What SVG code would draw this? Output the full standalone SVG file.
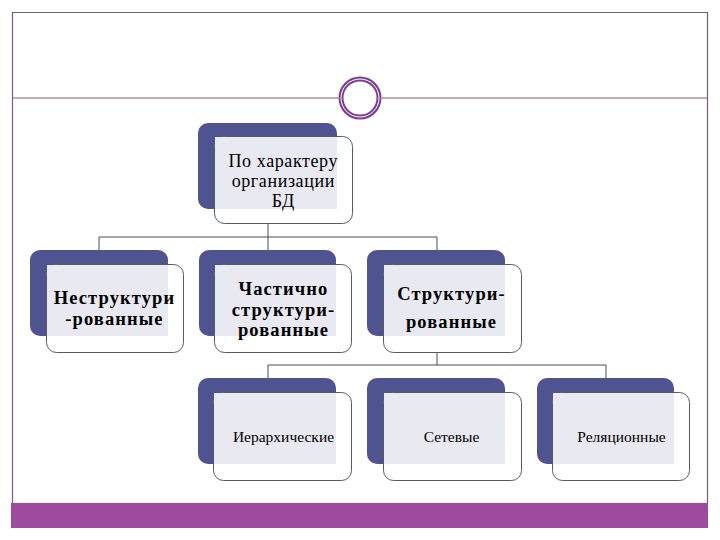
<svg xmlns="http://www.w3.org/2000/svg" width="720" height="540" viewBox="0 0 720 540">
<style>
.back{fill:#4F5490}
.front{fill:#ffffff;stroke:#555a66;stroke-width:1}
.lav{fill:#E9E9F1}
.conn{fill:none;stroke:#4a4a55;stroke-width:1}
text{font-family:'Liberation Serif','DejaVu Serif',serif;fill:#000;text-anchor:middle}
.b{font-weight:bold;font-size:18.5px;letter-spacing:1.1px}
.n{font-size:15.5px}
.top{font-size:18px;letter-spacing:0.6px}
.frame{fill:none;stroke:#7a5a7e;stroke-width:1.2}
</style>
<rect x="0" y="0" width="720" height="540" fill="#ffffff"/>
<g id="frame">
<path class="frame" d="M12.5,503 V12.5 H707.5 V503"/>
<line class="frame" x1="12.5" y1="98" x2="338" y2="98"/>
<line class="frame" x1="382" y1="98" x2="707.5" y2="98"/>
<circle cx="360" cy="98" r="19" fill="#ffffff" stroke="#7E3F8C" stroke-width="5"/>
<circle cx="360" cy="98" r="19" fill="none" stroke="#ffffff" stroke-width="1"/>
<rect x="11" y="503" width="697" height="25" fill="#9E4A9E"/>
</g>
<g id="connectors">
<path class="conn" d="M268,223 V237 M99,250 V237 H437 V250 M268,237 V250"/>
<path class="conn" d="M437,352 V365 M268,378 V365 H606 V378"/>
</g>
<g id="node-top">
<rect class="back" x="198" y="123" width="139" height="86" rx="10"/>
<rect class="front" x="214.5" y="136.5" width="138" height="87" rx="10"/>
<rect class="lav" x="215" y="137" width="122" height="72"/>
<text class="top" x="283.3" y="167">По характеру<tspan x="283.3" dy="20">организации</tspan><tspan x="283.3" dy="20">БД</tspan></text>
</g>
<g id="node-unstructured">
<rect class="back" x="30" y="250" width="138" height="86" rx="10"/>
<rect class="front" x="46.5" y="264.5" width="137" height="88" rx="10"/>
<rect class="lav" x="47" y="265" width="121" height="71"/>
<text class="b" x="114.5" y="304">Неструктури<tspan x="114.5" dy="20.5">-рованные</tspan></text>
</g>
<g id="node-partial">
<rect class="back" x="199" y="250" width="137" height="86" rx="10"/>
<rect class="front" x="214.5" y="264.5" width="137" height="88" rx="10"/>
<rect class="lav" x="215" y="265" width="121" height="71"/>
<text class="b" x="283.5" y="295">Частично<tspan x="283.5" dy="20.5">структури-</tspan><tspan x="283.5" dy="20.5">рованные</tspan></text>
</g>
<g id="node-structured">
<rect class="back" x="367" y="250" width="138" height="86" rx="10"/>
<rect class="front" x="383.5" y="264.5" width="138" height="88" rx="10"/>
<rect class="lav" x="384" y="265" width="121" height="71"/>
<text class="b" x="451.5" y="300">Структури-<tspan x="451.5" dy="28">рованные</tspan></text>
</g>
<g id="node-hier">
<rect class="back" x="198" y="378" width="138" height="86" rx="10"/>
<rect class="front" x="213.5" y="392.5" width="138" height="88" rx="10"/>
<rect class="lav" x="214" y="393" width="122" height="71"/>
<text class="n" x="283.5" y="442">Иерархические</text>
</g>
<g id="node-network">
<rect class="back" x="367" y="378" width="138" height="86" rx="10"/>
<rect class="front" x="383.5" y="392.5" width="138" height="88" rx="10"/>
<rect class="lav" x="384" y="393" width="121" height="71"/>
<text class="n" x="451.5" y="442">Сетевые</text>
</g>
<g id="node-relational">
<rect class="back" x="537" y="378" width="137" height="86" rx="10"/>
<rect class="front" x="552.5" y="392.5" width="137" height="88" rx="10"/>
<rect class="lav" x="553" y="393" width="121" height="71"/>
<text class="n" x="621.5" y="442">Реляционные</text>
</g>
</svg>
